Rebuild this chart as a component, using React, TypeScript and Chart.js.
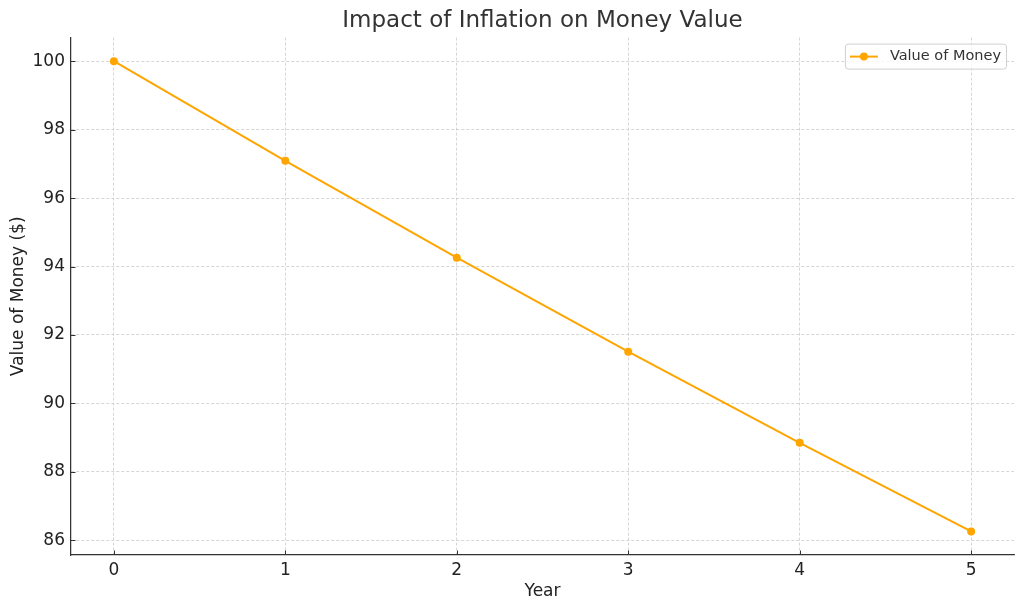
import React, { useEffect, useRef } from "react";
import { Chart, registerables } from "chart.js";

Chart.register(...registerables);

const years = [0, 1, 2, 3, 4, 5];
const moneyValues = [100, 97.09, 94.26, 91.51, 88.85, 86.26];
const yTicks = [86, 88, 90, 92, 94, 96, 98, 100];
const xTicks = [0, 1, 2, 3, 4, 5];
const seriesLabel = "Value of Money";
const chartTitle = "Impact of Inflation on Money Value";
const xTitle = "Year";
const yTitle = "Value of Money ($)";

const FONT = "'DejaVu Sans', sans-serif";
const ORANGE = "#FFA500";

const innerTicksPlugin = {
  id: "innerTicks",
  afterDraw(chart: any) {
    const { ctx, chartArea } = chart;
    const xs = chart.scales.x;
    const ys = chart.scales.y;
    ctx.save();
    ctx.strokeStyle = "#333";
    ctx.lineWidth = 1;
    ctx.beginPath();
    xTicks.forEach((v) => {
      const px = Math.round(xs.getPixelForValue(v)) + 0.5;
      ctx.moveTo(px, chartArea.bottom);
      ctx.lineTo(px, chartArea.bottom - 4.5);
    });
    yTicks.forEach((v) => {
      const py = Math.round(ys.getPixelForValue(v)) + 0.5;
      ctx.moveTo(chartArea.left, py);
      ctx.lineTo(chartArea.left + 4.5, py);
    });
    ctx.stroke();
    ctx.restore();
  },
};

const legendPlugin = {
  id: "boxLegend",
  afterDraw(chart: any) {
    const { ctx, chartArea } = chart;
    ctx.save();
    ctx.font = `14.5px ${FONT}`;
    const textW = ctx.measureText(seriesLabel).width;
    const w = textW + 50;
    const h = 25;
    const x = chartArea.right - 8 - w;
    const y = chartArea.top + 6;
    ctx.fillStyle = "rgba(255,255,255,0.8)";
    ctx.strokeStyle = "#d0d0d0";
    ctx.lineWidth = 1;
    ctx.beginPath();
    (ctx as any).roundRect(x + 0.5, y + 0.5, w, h, 3);
    ctx.fill();
    ctx.stroke();
    const cy = y + h / 2 + 0.5;
    ctx.strokeStyle = ORANGE;
    ctx.lineWidth = 2;
    ctx.beginPath();
    ctx.moveTo(x + 5, cy);
    ctx.lineTo(x + 33, cy);
    ctx.stroke();
    ctx.fillStyle = ORANGE;
    ctx.beginPath();
    ctx.arc(x + 19, cy, 4, 0, Math.PI * 2);
    ctx.fill();
    ctx.fillStyle = "#333";
    ctx.textBaseline = "middle";
    ctx.textAlign = "left";
    ctx.fillText(seriesLabel, x + 45, cy);
    ctx.restore();
  },
};

export default function App() {
  const ref = useRef<HTMLCanvasElement | null>(null);
  useEffect(() => {
    document.body.style.margin = "0";
    const gridOpts: any = {
      color: "#cccccc",
      lineWidth: 0.8,
      drawTicks: false,
    };
    const chart = new Chart(ref.current as HTMLCanvasElement, {
      type: "line",
      data: {
        datasets: [
          {
            label: seriesLabel,
            data: years.map((x, i) => ({ x, y: moneyValues[i] })),
            borderColor: ORANGE,
            backgroundColor: ORANGE,
            borderWidth: 2,
            pointRadius: 4,
            pointHoverRadius: 4,
            pointBorderWidth: 0,
            tension: 0,
          },
        ],
      },
      options: {
        animation: false,
        responsive: false,
        events: [],
        layout: { padding: { left: 0, right: 10, top: 0, bottom: 0 } },
        plugins: {
          legend: { display: false },
          tooltip: { enabled: false },
          title: {
            display: true,
            text: chartTitle,
            fullSize: false,
            color: "#333",
            font: { family: FONT, size: 23, weight: "normal" },
            padding: { top: 7, bottom: 3 },
          },
        },
        scales: {
          x: {
            type: "linear",
            min: -0.25,
            max: 5.25,
            afterBuildTicks: (s: any) => {
              s.ticks = xTicks.map((v) => ({ value: v }));
            },
            afterFit: (s: any) => {
              s.height = 55;
            },
            ticks: {
              color: "#222",
              font: { family: FONT, size: 17 },
              padding: 5,
              maxRotation: 0,
              callback: (v: any) => String(v),
            },
            grid: gridOpts,
            border: { display: true, color: "#333", width: 1.25, dash: [3, 2] } as any,
            title: {
              display: true,
              text: xTitle,
              color: "#222",
              font: { family: FONT, size: 17 },
              padding: { top: 2, bottom: 8 },
            },
          },
          y: {
            type: "linear",
            min: 85.57,
            max: 100.69,
            afterBuildTicks: (s: any) => {
              s.ticks = yTicks.map((v) => ({ value: v }));
            },
            afterFit: (s: any) => {
              s.width = 71;
            },
            ticks: {
              color: "#222",
              font: { family: FONT, size: 17 },
              padding: 6,
              callback: (v: any) => String(v),
            },
            grid: gridOpts,
            border: { display: true, color: "#333", width: 1.25, dash: [3, 2] } as any,
            title: {
              display: true,
              text: yTitle,
              color: "#222",
              font: { family: FONT, size: 17 },
              padding: { top: 8, bottom: 0 },
            },
          },
        },
      } as any,
      plugins: [innerTicksPlugin, legendPlugin],
    });
    return () => chart.destroy();
  }, []);
  return (
    <div style={{ position: "absolute", left: 0, top: 0, width: 1024, height: 610 }}>
      <canvas ref={ref} width={1024} height={610} style={{ display: "block" }} />
    </div>
  );
}
